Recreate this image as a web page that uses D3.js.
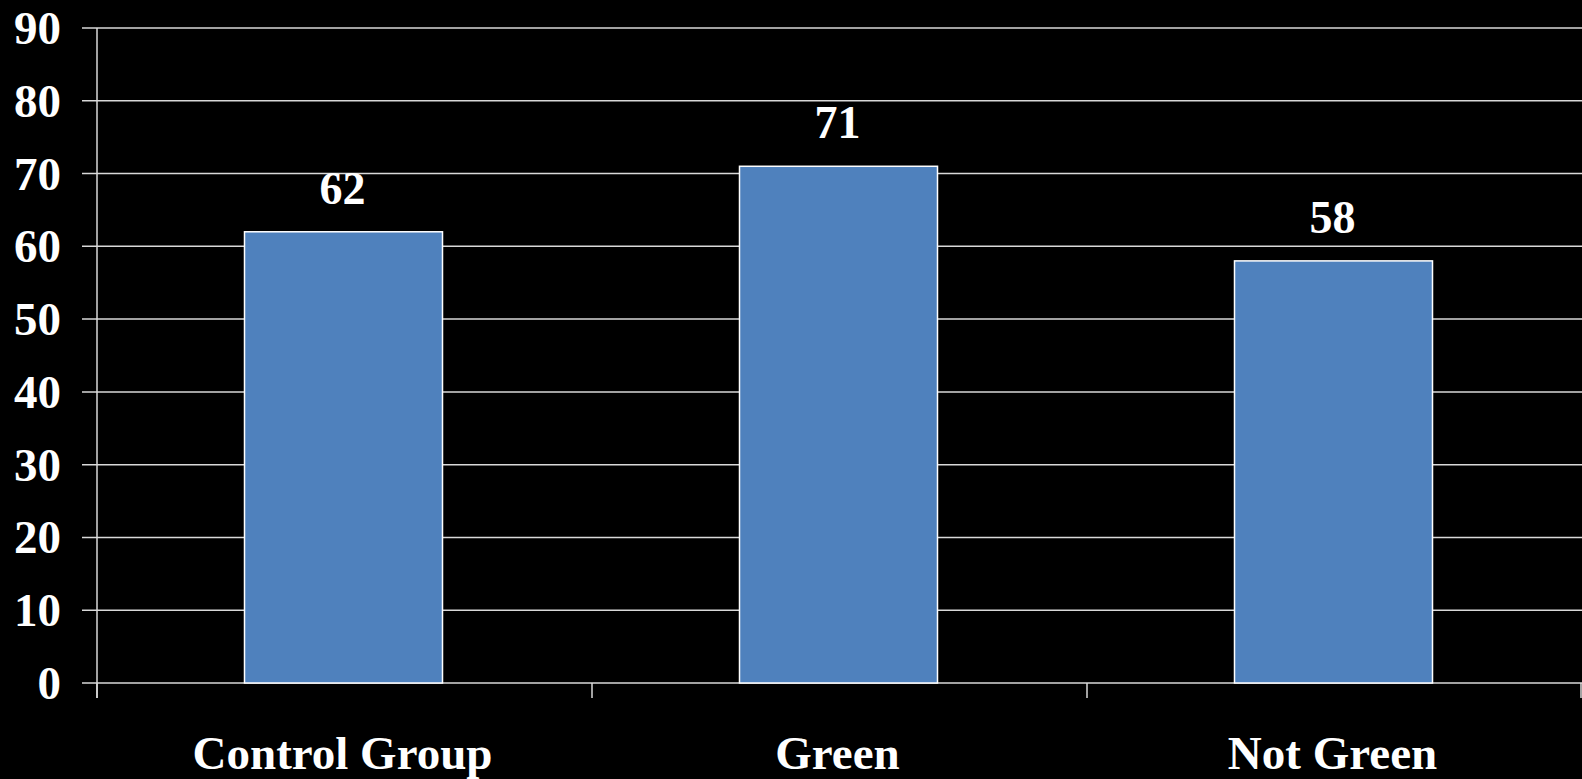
<!DOCTYPE html>
<html>
<head>
<meta charset="utf-8">
<script src="https://cdn.jsdelivr.net/npm/d3@7"></script>
<style>
html,body{margin:0;padding:0;background:#000;}
svg{display:block;}
text{font-family:"Liberation Serif","Times New Roman",serif;font-weight:bold;fill:#fff;}
</style>
</head>
<body>
<svg id="chart" width="1582" height="779"></svg>
<script>
const categories = ["Control Group", "Green", "Not Green"];
const values = [62, 71, 58];
const yTicks = [0, 10, 20, 30, 40, 50, 60, 70, 80, 90];

const W = 1582, H = 779;
const m = {left: 97, right: 0, top: 28, bottom: 96};
const svg = d3.select("#chart");
svg.append("rect").attr("width", W).attr("height", H).attr("fill", "#000");

const y = d3.scaleLinear().domain([0, 90]).range([H - m.bottom, m.top]);
const xb = d3.scaleBand().domain(categories).range([m.left, W - m.right]);

// gridlines
svg.append("g").selectAll("line").data(yTicks).join("line")
  .attr("x1", m.left - 15).attr("x2", W - m.right)
  .attr("y1", d => y(d)).attr("y2", d => y(d))
  .attr("stroke", "#d9d9d9").attr("stroke-width", 1.5);

// y axis line
svg.append("line").attr("x1", m.left).attr("x2", m.left)
  .attr("y1", y(90)).attr("y2", y(0) + 15)
  .attr("stroke", "#d9d9d9").attr("stroke-width", 1.5);

// x ticks at band boundaries
const bounds = categories.map(c => xb(c)).concat([xb(categories[categories.length-1]) + xb.bandwidth()]);
svg.append("g").selectAll("line").data(bounds).join("line")
  .attr("x1", d => Math.min(d, W - 1)).attr("x2", d => Math.min(d, W - 1))
  .attr("y1", y(0)).attr("y2", y(0) + 15)
  .attr("stroke", "#d9d9d9").attr("stroke-width", 1.5);

// y tick labels
svg.append("g").selectAll("text").data(yTicks).join("text")
  .attr("x", 61).attr("y", d => y(d))
  .attr("text-anchor", "end").attr("dominant-baseline", "central")
  .attr("font-size", 47).text(d => d);

// bars
const bw = xb.bandwidth() * 0.4;
svg.append("g").selectAll("rect").data(values).join("rect")
  .attr("x", (d, i) => xb(categories[i]) + xb.bandwidth() / 2 - bw / 2 - 1)
  .attr("width", bw)
  .attr("y", d => y(d)).attr("height", d => y(0) - y(d))
  .attr("fill", "#4F81BD").attr("stroke", "#ffffff").attr("stroke-width", 1.5);

// value labels
svg.append("g").selectAll("text").data(values).join("text")
  .attr("x", (d, i) => xb(categories[i]) + xb.bandwidth() / 2 - 2)
  .attr("y", d => y(d) - 28)
  .attr("text-anchor", "middle").attr("font-size", 46).text(d => d);

// category labels
svg.append("g").selectAll("text").data(categories).join("text")
  .attr("x", d => xb(d) + xb.bandwidth() / 2 - 2)
  .attr("y", 769)
  .attr("text-anchor", "middle").attr("font-size", 47).text(d => d);
</script>
</body>
</html>
